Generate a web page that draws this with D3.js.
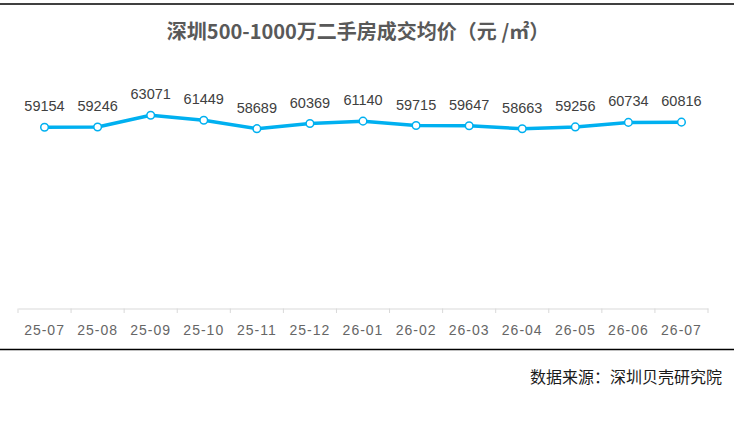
<!DOCTYPE html>
<html><head><meta charset="utf-8">
<script src="https://cdn.jsdelivr.net/npm/d3@7"></script>
<style>html,body{margin:0;padding:0;background:#fff;}svg{display:block;}</style>
</head><body>
<script>
const categories = ["25-07","25-08","25-09","25-10","25-11","25-12","26-01","26-02","26-03","26-04","26-05","26-06","26-07"];
const values = [59154,59246,63071,61449,58689,60369,61140,59715,59647,58663,59256,60734,60816];
const titleText = "深圳500-1000万二手房成交均价（元 /㎡）";
const sourceText = "数据来源：深圳贝壳研究院";

const W = 734, H = 428;
const svg = d3.select("body").append("svg").attr("width", W).attr("height", H);
const font = "Arial, 'Liberation Sans', 'Noto Sans CJK SC', sans-serif";

svg.append("line").attr("x1",0).attr("x2",W).attr("y1",4).attr("y2",4).attr("stroke","#000").attr("stroke-width",1.5);
svg.append("line").attr("x1",0).attr("x2",W).attr("y1",349.5).attr("y2",349.5).attr("stroke","#000").attr("stroke-width",1.5);

svg.append("text").attr("x",358).attr("y",39).attr("text-anchor","middle")
  .attr("font-family","'Noto Sans CJK SC', sans-serif").attr("font-weight","bold")
  .attr("font-size",20).attr("fill","#595959").text(titleText);

const x = d3.scaleBand().domain(categories).range([18, 708]);
const y = d3.scaleLinear().domain([0, 70000]).range([308.5, 94]);

const axis = svg.append("g").attr("transform","translate(0,308.5)")
  .call(d3.axisBottom(x).tickSize(0).tickPadding(17));
axis.select(".domain").attr("stroke","#d9d9d9");
axis.selectAll("text").attr("font-family",font).attr("font-size",14).attr("fill","#666")
  .attr("letter-spacing","1px");
// separator ticks between categories
const bounds = categories.map(c => x(c)).concat([x(categories[categories.length-1]) + x.bandwidth()]);
svg.append("g").selectAll("line").data(bounds).join("line")
  .attr("x1",d=>d).attr("x2",d=>d).attr("y1",308.5).attr("y2",313)
  .attr("stroke","#d9d9d9");

const cx = d => x(d) + x.bandwidth()/2;
const line = d3.line().x((d,i)=>cx(categories[i])).y(d=>y(d));
svg.append("path").datum(values).attr("d",line).attr("fill","none")
  .attr("stroke","#00B0F0").attr("stroke-width",3.5).attr("stroke-linejoin","round");
svg.append("g").selectAll("circle").data(values).join("circle")
  .attr("cx",(d,i)=>cx(categories[i])).attr("cy",d=>y(d)).attr("r",3.8)
  .attr("fill","#fff").attr("stroke","#00B0F0").attr("stroke-width",1.5);
svg.append("g").selectAll("text").data(values).join("text")
  .attr("x",(d,i)=>cx(categories[i])).attr("y",d=>y(d)-16).attr("text-anchor","middle")
  .attr("font-family",font).attr("font-size",14.5).attr("fill","#404040").text(d=>d);

svg.append("text").attr("x",722).attr("y",383).attr("text-anchor","end")
  .attr("font-family","'Noto Sans CJK SC', sans-serif").attr("font-size",16).attr("fill","#1a1a1a").text(sourceText);
</script>
</body></html>
